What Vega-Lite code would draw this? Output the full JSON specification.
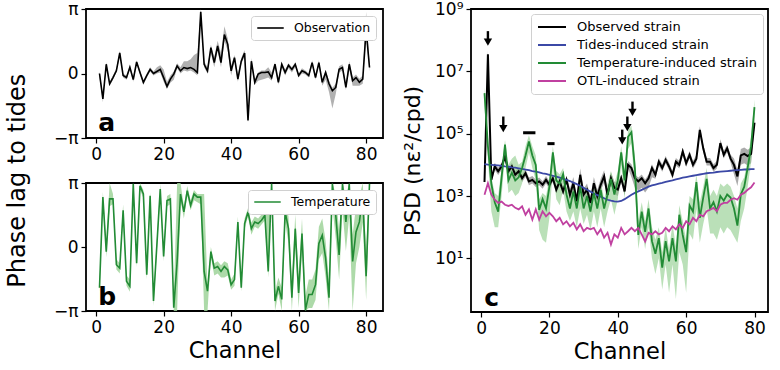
{
"$schema":"https://vega.github.io/schema/vega-lite/v6.json",
"background":"white",
"padding":{"left":5,"top":-1,"right":4,"bottom":0},
"config":{
 "font":"DejaVu Sans",
 "view":{"stroke":"black","strokeWidth":1.8},
 "axis":{"domain":false,"grid":false,"ticks":true,"tickColor":"black","tickSize":5,"tickWidth":1.2,"labelFont":"DejaVu Sans","labelFontSize":17,"labelColor":"black","labelPadding":3,"titleFont":"DejaVu Sans","titleFontSize":22.5,"titleFontWeight":"normal","titleColor":"black"},
 "legend":{"labelFont":"DejaVu Sans","labelColor":"black","labelLimit":300}
},
"datasets":{
"d":[
{"ch":1,"a":0.0,"aLo":-0.2,"aHi":0.1,"b":-2.0,"bLo":-2.2,"bHi":-1.8,"o":2800,"oLo":2100,"oHi":3700,"td":10500,"t":2000000,"tLo":794000,"tHi":3160000,"otl":1100},
{"ch":2,"a":-1.24,"aLo":-1.4,"aHi":-1.0,"b":2.45,"bLo":2.2,"bHi":2.7,"o":35500000,"oLo":27000000,"oHi":47000000,"td":10200,"t":39800,"tLo":15800,"tHi":79400,"otl":2570},
{"ch":3,"a":0.45,"aLo":0.3,"aHi":0.55,"b":-0.23,"bLo":-0.5,"bHi":0.2,"o":3300,"oLo":2500,"oHi":4400,"td":10000,"t":2510,"tLo":316,"tHi":3980,"otl":1100},
{"ch":4,"a":-0.5,"aLo":-0.6,"aHi":-0.4,"b":2.36,"bLo":2.0,"bHi":3.14,"o":8900,"oLo":6800,"oHi":11700,"td":9770,"t":631,"tLo":100,"tHi":1260,"otl":760},
{"ch":5,"a":-0.2,"aLo":-0.3,"aHi":-0.1,"b":2.36,"bLo":2.1,"bHi":2.6,"o":6200,"oLo":4700,"oHi":8200,"td":9550,"t":316,"tLo":100,"tHi":1000,"otl":600},
{"ch":6,"a":0.13,"aLo":0.05,"aHi":0.25,"b":-0.87,"bLo":-1.1,"bHi":-0.6,"o":8900,"oLo":6800,"oHi":11700,"td":9330,"t":3980,"tLo":1000,"tHi":7940,"otl":660},
{"ch":7,"a":1.0,"aLo":0.85,"aHi":1.1,"b":-1.04,"bLo":-1.3,"bHi":-0.8,"o":18600,"oLo":14100,"oHi":24600,"td":8910,"t":44700,"tLo":20000,"tHi":63100,"otl":525},
{"ch":8,"a":-0.1,"aLo":-0.2,"aHi":0.0,"b":1.8,"bLo":1.5,"bHi":2.1,"o":6200,"oLo":4700,"oHi":8200,"td":8710,"t":3160,"tLo":1260,"tHi":10000,"otl":480},
{"ch":9,"a":-0.2,"aLo":-0.3,"aHi":-0.1,"b":-1.68,"bLo":-1.9,"bHi":-1.4,"o":8900,"oLo":6800,"oHi":11700,"td":8320,"t":5620,"tLo":1580,"tHi":15800,"otl":525},
{"ch":10,"a":0.3,"aLo":0.2,"aHi":0.4,"b":-1.93,"bLo":-2.2,"bHi":-1.6,"o":4800,"oLo":3600,"oHi":6300,"td":8130,"t":3160,"tLo":1000,"tHi":20000,"otl":417},
{"ch":11,"a":-0.3,"aLo":-0.4,"aHi":-0.2,"b":3.1,"bLo":2.9,"bHi":3.14,"o":6200,"oLo":4700,"oHi":8200,"td":7760,"t":3980,"tLo":1260,"tHi":10000,"otl":372},
{"ch":12,"a":0.56,"aLo":0.45,"aHi":0.65,"b":-0.79,"bLo":-1.0,"bHi":-0.5,"o":3700,"oLo":2800,"oHi":4900,"td":7410,"t":7940,"tLo":2510,"tHi":12600,"otl":468},
{"ch":13,"a":0.05,"aLo":-0.05,"aHi":0.15,"b":3.0,"bLo":2.8,"bHi":3.14,"o":5400,"oLo":4100,"oHi":7100,"td":7080,"t":20000,"tLo":7940,"tHi":39800,"otl":251},
{"ch":14,"a":-0.43,"aLo":-0.55,"aHi":-0.35,"b":2.6,"bLo":2.4,"bHi":2.8,"o":2950,"oLo":2200,"oHi":3900,"td":6760,"t":56200,"tLo":25100,"tHi":89100,"otl":372},
{"ch":15,"a":-0.1,"aLo":-0.2,"aHi":0.0,"b":-1.36,"bLo":-1.6,"bHi":-1.1,"o":3300,"oLo":2500,"oHi":4400,"td":6310,"t":20000,"tLo":7940,"tHi":39800,"otl":174},
{"ch":16,"a":0.2,"aLo":0.1,"aHi":0.3,"b":2.52,"bLo":2.3,"bHi":2.7,"o":2570,"oLo":1950,"oHi":3400,"td":6030,"t":10000,"tLo":3160,"tHi":20000,"otl":372},
{"ch":17,"a":0.0,"aLo":-0.1,"aHi":0.1,"b":-2.65,"bLo":-2.9,"bHi":-2.4,"o":2950,"oLo":2200,"oHi":3900,"td":5750,"t":355,"tLo":79.4,"tHi":794,"otl":174},
{"ch":18,"a":0.1,"aLo":0.0,"aHi":0.3,"b":0.1,"bLo":-0.2,"bHi":0.4,"o":2290,"oLo":1700,"oHi":3000,"td":5370,"t":794,"tLo":39.8,"tHi":1260,"otl":324},
{"ch":19,"a":0.2,"aLo":0.05,"aHi":0.4,"b":2.85,"bLo":2.6,"bHi":3.1,"o":3300,"oLo":2500,"oHi":4400,"td":5130,"t":398,"tLo":31.6,"tHi":1000,"otl":224},
{"ch":20,"a":-0.2,"aLo":-0.4,"aHi":0.2,"b":-0.47,"bLo":-0.7,"bHi":-0.2,"o":2290,"oLo":1700,"oHi":3000,"td":4790,"t":2000,"tLo":200,"tHi":3980,"otl":288},
{"ch":21,"a":-0.63,"aLo":-0.75,"aHi":-0.4,"b":2.28,"bLo":2.0,"bHi":2.5,"o":3700,"oLo":2800,"oHi":4900,"td":4470,"t":25100,"tLo":7940,"tHi":39800,"otl":224},
{"ch":22,"a":-0.27,"aLo":-0.45,"aHi":-0.1,"b":2.36,"bLo":2.1,"bHi":2.6,"o":1600,"oLo":1200,"oHi":2100,"td":4170,"t":3160,"tLo":794,"tHi":6310,"otl":155},
{"ch":23,"a":-0.03,"aLo":-0.3,"aHi":0.1,"b":-2.98,"bLo":-3.14,"bHi":-2.6,"o":2950,"oLo":2200,"oHi":3900,"td":3890,"t":2510,"tLo":501,"tHi":5010,"otl":200},
{"ch":24,"a":0.37,"aLo":0.25,"aHi":0.5,"b":-0.71,"bLo":-3.14,"bHi":3.14,"o":1400,"oLo":1060,"oHi":1850,"td":3550,"t":5010,"tLo":1580,"tHi":7940,"otl":123},
{"ch":25,"a":0.13,"aLo":0.0,"aHi":0.3,"b":2.6,"bLo":2.3,"bHi":3.14,"o":3300,"oLo":2500,"oHi":4400,"td":3310,"t":1120,"tLo":316,"tHi":2000,"otl":155},
{"ch":26,"a":0.29,"aLo":0.15,"aHi":0.6,"b":1.72,"bLo":1.4,"bHi":2.0,"o":1100,"oLo":690,"oHi":1700,"td":3020,"t":398,"tLo":158,"tHi":794,"otl":107},
{"ch":27,"a":0.24,"aLo":0.1,"aHi":0.6,"b":2.77,"bLo":2.5,"bHi":3.0,"o":2570,"oLo":1600,"oHi":4100,"td":2690,"t":1410,"tLo":316,"tHi":2510,"otl":138},
{"ch":28,"a":0.29,"aLo":0.15,"aHi":0.7,"b":2.04,"bLo":1.8,"bHi":2.3,"o":680,"oLo":430,"oHi":1070,"td":2400,"t":398,"tLo":100,"tHi":794,"otl":85},
{"ch":29,"a":0.2,"aLo":0.05,"aHi":0.9,"b":2.6,"bLo":2.3,"bHi":2.8,"o":4800,"oLo":3000,"oHi":7600,"td":2090,"t":2000,"tLo":398,"tHi":3160,"otl":123},
{"ch":30,"a":0.05,"aLo":-0.1,"aHi":1.0,"b":2.45,"bLo":2.2,"bHi":2.6,"o":1100,"oLo":690,"oHi":1700,"td":1820,"t":398,"tLo":126,"tHi":794,"otl":74},
{"ch":31,"a":3.0,"aLo":2.8,"aHi":3.14,"b":2.45,"bLo":2.1,"bHi":2.6,"o":1600,"oLo":1000,"oHi":2500,"td":1580,"t":1000,"tLo":251,"tHi":2000,"otl":95},
{"ch":32,"a":0.45,"aLo":0.3,"aHi":0.6,"b":-1.2,"bLo":-3.14,"bHi":2.6,"o":600,"oLo":380,"oHi":950,"td":1380,"t":316,"tLo":79.4,"tHi":631,"otl":85},
{"ch":33,"a":0.13,"aLo":0.0,"aHi":0.3,"b":-2.17,"bLo":-3.14,"bHi":-1.9,"o":2570,"oLo":1600,"oHi":4100,"td":1200,"t":1260,"tLo":316,"tHi":2510,"otl":95},
{"ch":34,"a":1.26,"aLo":1.0,"aHi":1.4,"b":-0.23,"bLo":-0.5,"bHi":0.0,"o":980,"oLo":620,"oHi":1550,"td":1070,"t":398,"tLo":100,"tHi":794,"otl":59},
{"ch":35,"a":0.53,"aLo":0.3,"aHi":0.8,"b":-1.04,"bLo":-1.4,"bHi":-0.8,"o":2290,"oLo":1450,"oHi":3600,"td":955,"t":1580,"tLo":398,"tHi":3160,"otl":85},
{"ch":36,"a":1.34,"aLo":1.1,"aHi":1.6,"b":-0.96,"bLo":-1.3,"bHi":-0.7,"o":4270,"oLo":2700,"oHi":6700,"td":851,"t":398,"tLo":100,"tHi":794,"otl":46},
{"ch":37,"a":0.53,"aLo":0.3,"aHi":1.0,"b":-1.2,"bLo":-1.5,"bHi":-0.9,"o":1100,"oLo":690,"oHi":1700,"td":759,"t":1120,"tLo":316,"tHi":2510,"otl":66},
{"ch":38,"a":1.9,"aLo":1.6,"aHi":2.3,"b":-0.96,"bLo":-1.5,"bHi":-0.7,"o":3700,"oLo":2300,"oHi":5800,"td":708,"t":3550,"tLo":794,"tHi":6310,"otl":28},
{"ch":39,"a":1.42,"aLo":1.1,"aHi":1.7,"b":-1.12,"bLo":-1.4,"bHi":-0.8,"o":1820,"oLo":1150,"oHi":2900,"td":676,"t":1120,"tLo":251,"tHi":2510,"otl":59},
{"ch":40,"a":0.13,"aLo":-0.1,"aHi":0.4,"b":-1.85,"bLo":-2.1,"bHi":-1.6,"o":1600,"oLo":1000,"oHi":2500,"td":661,"t":3160,"tLo":794,"tHi":6310,"otl":46},
{"ch":41,"a":0.77,"aLo":0.6,"aHi":0.9,"b":-1.6,"bLo":-1.9,"bHi":-1.3,"o":3700,"oLo":2800,"oHi":4900,"td":692,"t":25100,"tLo":10000,"tHi":39800,"otl":95},
{"ch":42,"a":-0.27,"aLo":-0.4,"aHi":-0.1,"b":1.23,"bLo":1.0,"bHi":1.5,"o":1400,"oLo":1060,"oHi":1850,"td":794,"t":3160,"tLo":794,"tHi":6310,"otl":59},
{"ch":43,"a":0.6,"aLo":0.45,"aHi":0.75,"b":-2.0,"bLo":-2.2,"bHi":-1.7,"o":10000,"oLo":7600,"oHi":13200,"td":933,"t":79400,"tLo":31600,"tHi":126000,"otl":74},
{"ch":44,"a":1.0,"aLo":0.85,"aHi":1.15,"b":1.15,"bLo":0.9,"bHi":1.4,"o":7900,"oLo":4000,"oHi":10500,"td":1100,"t":112000,"tLo":50100,"tHi":178000,"otl":95},
{"ch":45,"a":-2.29,"aLo":-2.4,"aHi":-2.1,"b":1.72,"bLo":1.5,"bHi":1.9,"o":3700,"oLo":1850,"oHi":4900,"td":1260,"t":7940,"tLo":1580,"tHi":20000,"otl":74},
{"ch":46,"a":0.6,"aLo":0.45,"aHi":0.75,"b":0.9,"bLo":0.6,"bHi":1.2,"o":2950,"oLo":1500,"oHi":3900,"td":1410,"t":56.2,"tLo":20,"tHi":158,"otl":95},
{"ch":47,"a":-0.43,"aLo":-0.55,"aHi":-0.3,"b":1.23,"bLo":1.0,"bHi":1.5,"o":3700,"oLo":1850,"oHi":4900,"td":1580,"t":316,"tLo":100,"tHi":631,"otl":59},
{"ch":48,"a":-0.03,"aLo":-0.35,"aHi":0.05,"b":1.15,"bLo":0.9,"bHi":1.4,"o":2570,"oLo":1300,"oHi":3400,"td":1780,"t":70.8,"tLo":20,"tHi":158,"otl":35},
{"ch":49,"a":0.05,"aLo":-0.3,"aHi":0.15,"b":1.31,"bLo":1.1,"bHi":1.6,"o":3700,"oLo":1850,"oHi":4900,"td":2000,"t":398,"tLo":100,"tHi":794,"otl":66},
{"ch":50,"a":0.05,"aLo":-0.25,"aHi":0.15,"b":1.55,"bLo":1.3,"bHi":1.8,"o":7900,"oLo":4000,"oHi":10500,"td":2190,"t":35.5,"tLo":10,"tHi":100,"otl":59},
{"ch":51,"a":0.08,"aLo":-0.2,"aHi":0.3,"b":-1.2,"bLo":-1.5,"bHi":1.7,"o":4800,"oLo":3600,"oHi":6300,"td":2340,"t":14.1,"tLo":3.16,"tHi":39.8,"otl":74},
{"ch":52,"a":-0.2,"aLo":-0.35,"aHi":0.05,"b":3.1,"bLo":2.8,"bHi":3.14,"o":12600,"oLo":9600,"oHi":16600,"td":2510,"t":44.7,"tLo":10,"tHi":100,"otl":59},
{"ch":53,"a":0.45,"aLo":0.3,"aHi":0.55,"b":-2.65,"bLo":-3.14,"bHi":-2.2,"o":7900,"oLo":6000,"oHi":10500,"td":2630,"t":5.01,"tLo":1.0,"tHi":15.8,"otl":66},
{"ch":54,"a":-0.43,"aLo":-0.55,"aHi":-0.3,"b":-1.93,"bLo":-2.3,"bHi":-1.5,"o":14500,"oLo":11000,"oHi":19100,"td":2820,"t":35.5,"tLo":6.31,"tHi":100,"otl":95},
{"ch":55,"a":0.45,"aLo":0.3,"aHi":0.55,"b":-2.57,"bLo":-3.14,"bHi":-2.0,"o":8900,"oLo":6800,"oHi":11700,"td":3020,"t":7.94,"tLo":0.794,"tHi":20,"otl":74},
{"ch":56,"a":0.05,"aLo":-0.1,"aHi":0.2,"b":1.72,"bLo":1.2,"bHi":2.2,"o":4800,"oLo":3600,"oHi":6300,"td":3160,"t":44.7,"tLo":6.31,"tHi":126,"otl":107},
{"ch":57,"a":0.4,"aLo":0.25,"aHi":0.5,"b":0.9,"bLo":0.2,"bHi":1.5,"o":12600,"oLo":9600,"oHi":16600,"td":3390,"t":7.94,"tLo":0.501,"tHi":25.1,"otl":85},
{"ch":58,"a":0.2,"aLo":0.05,"aHi":0.3,"b":-2.49,"bLo":-3.14,"bHi":-1.8,"o":10000,"oLo":7600,"oHi":13200,"td":3630,"t":251,"tLo":15.8,"tHi":501,"otl":123},
{"ch":59,"a":0.45,"aLo":0.3,"aHi":0.55,"b":0.9,"bLo":0.0,"bHi":1.6,"o":26900,"oLo":20400,"oHi":35500,"td":3890,"t":56.2,"tLo":6.31,"tHi":158,"otl":95},
{"ch":60,"a":-0.1,"aLo":-0.2,"aHi":0.0,"b":-2.25,"bLo":-3.0,"bHi":-1.5,"o":11200,"oLo":8500,"oHi":14800,"td":4070,"t":15.8,"tLo":0.794,"tHi":39.8,"otl":155},
{"ch":61,"a":0.13,"aLo":0.0,"aHi":0.25,"b":0.66,"bLo":-0.2,"bHi":1.4,"o":20900,"oLo":15900,"oHi":27600,"td":4270,"t":501,"tLo":63.1,"tHi":1000,"otl":123},
{"ch":62,"a":0.05,"aLo":-0.05,"aHi":0.15,"b":-3.1,"bLo":-3.14,"bHi":-2.4,"o":10000,"oLo":7600,"oHi":13200,"td":4470,"t":316,"tLo":39.8,"tHi":794,"otl":200},
{"ch":63,"a":-0.1,"aLo":-0.2,"aHi":0.0,"b":-2.33,"bLo":-3.0,"bHi":-1.6,"o":15800,"oLo":12000,"oHi":20900,"td":4680,"t":2820,"tLo":398,"tHi":5010,"otl":155},
{"ch":64,"a":0.53,"aLo":0.4,"aHi":0.65,"b":-2.33,"bLo":-3.0,"bHi":-1.6,"o":132000,"oLo":100000,"oHi":174000,"td":4900,"t":200,"tLo":31.6,"tHi":631,"otl":251},
{"ch":65,"a":-0.2,"aLo":-0.3,"aHi":-0.1,"b":-1.85,"bLo":-2.6,"bHi":-1.1,"o":33900,"oLo":25800,"oHi":44700,"td":5130,"t":891,"tLo":126,"tHi":2000,"otl":224},
{"ch":66,"a":0.53,"aLo":0.4,"aHi":0.65,"b":0.18,"bLo":-0.6,"bHi":1.0,"o":12600,"oLo":9600,"oHi":16600,"td":5370,"t":3550,"tLo":398,"tHi":7940,"otl":324},
{"ch":67,"a":-0.43,"aLo":-0.6,"aHi":-0.3,"b":0.58,"bLo":-0.3,"bHi":1.4,"o":12600,"oLo":9600,"oHi":16600,"td":5500,"t":398,"tLo":63.1,"tHi":1000,"otl":363},
{"ch":68,"a":0.05,"aLo":-0.3,"aHi":0.15,"b":-0.55,"bLo":-1.5,"bHi":0.3,"o":7900,"oLo":6000,"oHi":10500,"td":5620,"t":631,"tLo":63.1,"tHi":1580,"otl":417},
{"ch":69,"a":-0.5,"aLo":-0.9,"aHi":-0.35,"b":-2.49,"bLo":-3.14,"bHi":-1.6,"o":10000,"oLo":7600,"oHi":13200,"td":5890,"t":316,"tLo":39.8,"tHi":1000,"otl":324},
{"ch":70,"a":-0.84,"aLo":-1.7,"aHi":-0.7,"b":3.1,"bLo":2.0,"bHi":3.14,"o":50100,"oLo":38100,"oHi":66100,"td":6030,"t":1000,"tLo":100,"tHi":2510,"otl":525},
{"ch":71,"a":-0.68,"aLo":-1.0,"aHi":-0.5,"b":1.55,"bLo":0.4,"bHi":2.6,"o":20900,"oLo":15900,"oHi":27600,"td":6170,"t":708,"tLo":63.1,"tHi":2000,"otl":600},
{"ch":72,"a":0.2,"aLo":0.05,"aHi":0.35,"b":-0.39,"bLo":-1.6,"bHi":0.8,"o":33900,"oLo":25800,"oHi":44700,"td":6310,"t":1120,"tLo":100,"tHi":2510,"otl":600},
{"ch":73,"a":0.29,"aLo":0.15,"aHi":0.45,"b":3.1,"bLo":1.8,"bHi":3.14,"o":15800,"oLo":12000,"oHi":20900,"td":6460,"t":891,"tLo":79.4,"tHi":2000,"otl":760},
{"ch":74,"a":-0.68,"aLo":-0.8,"aHi":-0.5,"b":1.23,"bLo":-0.2,"bHi":2.5,"o":10000,"oLo":5000,"oHi":16000,"td":6610,"t":398,"tLo":50.1,"tHi":1000,"otl":850},
{"ch":75,"a":0.45,"aLo":0.2,"aHi":0.6,"b":3.1,"bLo":1.5,"bHi":3.14,"o":4270,"oLo":2100,"oHi":6800,"td":6760,"t":112,"tLo":31.6,"tHi":398,"otl":760},
{"ch":76,"a":-0.35,"aLo":-0.6,"aHi":-0.2,"b":-0.71,"bLo":-3.14,"bHi":0.6,"o":20000,"oLo":10000,"oHi":32000,"td":6920,"t":1120,"tLo":158,"tHi":2510,"otl":1100},
{"ch":77,"a":-0.2,"aLo":-0.6,"aHi":-0.05,"b":0.74,"bLo":-0.8,"bHi":2.0,"o":22400,"oLo":11200,"oHi":35800,"td":7080,"t":2000,"tLo":398,"tHi":3980,"otl":1260},
{"ch":78,"a":-0.43,"aLo":-0.6,"aHi":-0.25,"b":1.23,"bLo":0.0,"bHi":2.5,"o":19000,"oLo":9500,"oHi":30400,"td":7080,"t":7940,"tLo":2000,"tHi":15800,"otl":1580},
{"ch":79,"a":-0.27,"aLo":-0.5,"aHi":-0.1,"b":2.52,"bLo":1.2,"bHi":3.14,"o":22400,"oLo":11200,"oHi":35800,"td":7240,"t":39800,"tLo":12600,"tHi":79400,"otl":1900},
{"ch":80,"a":2.14,"aLo":1.8,"aHi":3.0,"b":-1.44,"bLo":-2.6,"bHi":-0.2,"o":224000,"oLo":170000,"oHi":300000,"td":7240,"t":708000,"tLo":316000,"tHi":1260000,"otl":2700},
{"ch":81,"a":0.29,"aLo":0.1,"aHi":0.5,"b":3.1,"bLo":2.2,"bHi":3.14}
],
"arrows":[
{"ch":2,"top":195000000,"head":87000000},
{"ch":6.5,"top":355000,"head":145000},
{"ch":41.3,"top":135000,"head":58900},
{"ch":42.8,"top":355000,"head":155000},
{"ch":44.3,"top":1070000,"head":479000}
],
"dashes":[
{"x1":12.3,"x2":15.9,"y":107000},
{"x1":19.4,"x2":21.5,"y":47900}
],
"letA":[{"ch":0.6,"v":-2.39,"t":"a"}],
"letB":[{"ch":0.6,"v":-2.44,"t":"b"}],
"letC":[{"ch":0.9,"v":0.55,"t":"c"}]
},
"resolve":{"scale":{"color":"independent"},"legend":{"color":"independent"}},
"spacing":16,
"hconcat":[
{
 "title":{"text":"Phase lag to tides","orient":"left","anchor":"middle","fontSize":24,"fontWeight":"normal","font":"DejaVu Sans","color":"black","offset":23},
 "spacing":10,
 "resolve":{"scale":{"color":"independent"},"legend":{"color":"independent"}},
 "vconcat":[
 {
  "width":297,"height":129,
  "data":{"name":"d"},
  "encoding":{"x":{"field":"ch","type":"quantitative","scale":{"domain":[-3,85],"nice":false,"zero":false},"axis":{"values":[0,20,40,60,80],"title":null}}},
  "layer":[
   {"mark":{"type":"area","color":"#a9a9a9","opacity":0.9,"clip":true},
    "encoding":{"y":{"field":"aLo","type":"quantitative","scale":{"domain":[-3.14159265,3.14159265],"nice":false,"zero":false},"axis":{"values":[-3.14159265,0,3.14159265],"labelExpr":"datum.value > 1 ? 'π' : (datum.value < -1 ? '−π' : '0')","title":null}},"y2":{"field":"aHi"}}},
   {"mark":{"type":"line","strokeWidth":1.6,"clip":true},
    "encoding":{"y":{"field":"a","type":"quantitative"},
     "color":{"datum":"Observation","scale":{"domain":["Observation"],"range":["#000000"]},
      "legend":{"orient":"top-right","offset":7,"title":null,"symbolType":"stroke","symbolStrokeWidth":1.6,"symbolSize":700,"labelFontSize":12.5,"labelOffset":9,"padding":5,"clipHeight":14,"strokeColor":"#d0d0d0","fillColor":"#ffffff","cornerRadius":3}}}},
   {"data":{"name":"letA"},"mark":{"type":"text","fontSize":25,"fontWeight":"bold","align":"left","baseline":"middle","font":"DejaVu Sans","color":"black"},
    "encoding":{"y":{"field":"v","type":"quantitative"},"text":{"field":"t"}}}
  ]
 },
 {
  "width":297,"height":128,
  "data":{"name":"d"},
  "encoding":{"x":{"field":"ch","type":"quantitative","scale":{"domain":[-3,85],"nice":false,"zero":false},"axis":{"values":[0,20,40,60,80],"title":"Channel","titlePadding":4}}},
  "layer":[
   {"mark":{"type":"area","color":"#9fd39a","opacity":0.85,"clip":true},
    "encoding":{"y":{"field":"bLo","type":"quantitative","scale":{"domain":[-3.14159265,3.14159265],"nice":false,"zero":false},"axis":{"values":[-3.14159265,0,3.14159265],"labelExpr":"datum.value > 1 ? 'π' : (datum.value < -1 ? '−π' : '0')","title":null}},"y2":{"field":"bHi"}}},
   {"mark":{"type":"line","strokeWidth":1.6,"clip":true},
    "encoding":{"y":{"field":"b","type":"quantitative"},
     "color":{"datum":"Temperature","scale":{"domain":["Temperature"],"range":["#228b35"]},
      "legend":{"orient":"top-right","offset":7,"title":null,"symbolType":"stroke","symbolStrokeWidth":1.6,"symbolSize":700,"labelFontSize":12.5,"labelOffset":9,"padding":5,"clipHeight":14,"strokeColor":"#d0d0d0","fillColor":"#ffffff","cornerRadius":3}}}},
   {"data":{"name":"letB"},"mark":{"type":"text","fontSize":25,"fontWeight":"bold","align":"left","baseline":"middle","font":"DejaVu Sans","color":"black"},
    "encoding":{"y":{"field":"v","type":"quantitative"},"text":{"field":"t"}}}
  ]
 }
 ]
},
{
 "width":297,"height":303,
 "data":{"name":"d"},
 "encoding":{"x":{"field":"ch","type":"quantitative","scale":{"domain":[-2.95,83.95],"nice":false,"zero":false},"axis":{"values":[0,20,40,60,80],"title":"Channel","titlePadding":4}}},
 "layer":[
  {"mark":{"type":"area","color":"#8f8f8f","opacity":0.75,"clip":true},
   "encoding":{"y":{"field":"oLo","type":"quantitative","scale":{"type":"log","domain":[0.19,1000000000],"nice":false},"axis":{"values":[10,1000,100000,10000000,1000000000],"labelExpr":"'10' + ['⁰','¹','²','³','⁴','⁵','⁶','⁷','⁸','⁹'][round(log(datum.value)/LN10)]","title":"PSD (nε²/cpd)","titleFontSize":22,"titlePadding":10}},"y2":{"field":"oHi"}}},
  {"mark":{"type":"area","color":"#8ccc88","opacity":0.6,"clip":true},
   "encoding":{"y":{"field":"tLo","type":"quantitative"},"y2":{"field":"tHi"}}},
  {"mark":{"type":"line","strokeWidth":2,"clip":true},
   "encoding":{"y":{"field":"o","type":"quantitative"},
    "color":{"datum":"Observed strain","scale":{"domain":["Observed strain","Tides-induced strain","Temperature-induced strain","OTL-induced strain"],"range":["#000000","#3b48a6","#228b35","#c040a0"]},
     "legend":{"orient":"top-right","offset":5,"title":null,"symbolType":"stroke","symbolStrokeWidth":2,"symbolSize":784,"labelFontSize":13,"labelOffset":10,"labelLimit":300,"padding":6,"rowPadding":4,"clipHeight":14,"strokeColor":"#d0d0d0","fillColor":"#ffffff","cornerRadius":3}}}},
  {"mark":{"type":"line","strokeWidth":1.8,"clip":true},
   "encoding":{"y":{"field":"td","type":"quantitative"},"color":{"datum":"Tides-induced strain"}}},
  {"mark":{"type":"line","strokeWidth":1.8,"clip":true},
   "encoding":{"y":{"field":"t","type":"quantitative"},"color":{"datum":"Temperature-induced strain"}}},
  {"mark":{"type":"line","strokeWidth":1.8,"clip":true},
   "encoding":{"y":{"field":"otl","type":"quantitative"},"color":{"datum":"OTL-induced strain"}}},
  {"data":{"name":"arrows"},"mark":{"type":"rule","color":"black","strokeWidth":2.4},
   "encoding":{"y":{"field":"top","type":"quantitative"},"y2":{"field":"head"}}},
  {"data":{"name":"arrows"},"mark":{"type":"point","shape":"triangle-down","filled":true,"color":"black","opacity":1,"size":70},
   "encoding":{"y":{"field":"head","type":"quantitative"}}},
  {"data":{"name":"dashes"},"mark":{"type":"rule","color":"black","strokeWidth":3},
   "encoding":{"x":{"field":"x1","type":"quantitative"},"x2":{"field":"x2"},"y":{"field":"y","type":"quantitative"}}},
  {"data":{"name":"letC"},"mark":{"type":"text","fontSize":25,"fontWeight":"bold","align":"left","baseline":"middle","font":"DejaVu Sans","color":"black"},
   "encoding":{"y":{"field":"v","type":"quantitative"},"text":{"field":"t"}}}
 ]
}
]
}
